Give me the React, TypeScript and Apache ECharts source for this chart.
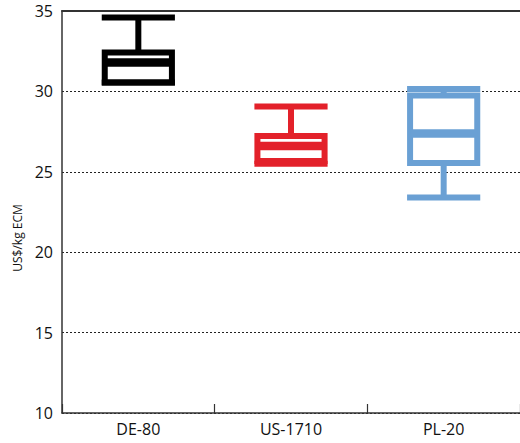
import React, { useEffect, useRef } from "react";
import * as echarts from "echarts";

const categories = ["DE-80", "US-1710", "PL-20"];
const colors = ["#000000", "#e3212a", "#6aa0d4"];
// [min, Q1, median, Q3, max]
const boxValues = [
  [30.55, 30.55, 31.8, 32.42, 34.6],
  [25.5, 25.67, 26.6, 27.23, 29.06],
  [23.4, 25.55, 27.38, 29.75, 30.15],
];
const yTicks = { min: 10, max: 35, interval: 5 };
const yAxisName = "US$/kg ECM";

export default function App() {
  const ref = useRef<HTMLDivElement>(null);
  useEffect(() => {
    if (!ref.current) return;
    document.body.style.margin = "0";
    const chart = echarts.init(ref.current, null, { renderer: "svg" });
    const data = boxValues.map((v, i) => [i, ...v]);
    chart.setOption({
      animation: false,
      grid: { left: 62, top: 11, bottom: 30, right: -4 },
      graphic: [
        {
          type: "text",
          x: 17,
          y: 238,
          rotation: Math.PI / 2,
          style: {
            text: yAxisName,
            fill: "#111",
            fontSize: 12,
            fontFamily: "Open Sans",
            textAlign: "center",
            textVerticalAlign: "middle",
          },
        },
      ],
      xAxis: [
        {
          type: "category",
          data: categories,
          boundaryGap: true,
          axisLine: { lineStyle: { color: "#333", width: 1.5 } },
          axisTick: { show: true, inside: true, length: 9, lineStyle: { color: "#333", width: 1.2 } },
          axisLabel: { color: "#111", fontSize: 16, fontFamily: "Open Sans", margin: 8 },
        },
        {
          type: "category",
          data: categories,
          position: "top",
          axisLine: { show: true, lineStyle: { color: "#333", width: 2 } },
          axisTick: { show: false },
          axisLabel: { show: false },
        },
      ],
      yAxis: {
        type: "value",
        min: yTicks.min,
        max: yTicks.max,
        interval: yTicks.interval,
        axisLine: { show: true, lineStyle: { color: "#333", width: 1.5 } },
        axisTick: { show: false },
        axisLabel: { color: "#111", fontSize: 16, fontFamily: "Open Sans", margin: 9 },
        splitLine: { show: true, lineStyle: { color: "#222", type: [2, 2], width: 1.2 } },
      },
      series: [
        {
          type: "custom",
          data,
          renderItem: (params: any, api: any) => {
            const idx = api.value(0);
            const mn = api.value(1), q1 = api.value(2), md = api.value(3), q3 = api.value(4), mx = api.value(5);
            const band = api.size([1, 0])[0];
            const half = band * 0.22;
            const cx = api.coord([idx, 0])[0];
            const yMin = api.coord([idx, mn])[1];
            const yQ1 = api.coord([idx, q1])[1];
            const yMd = api.coord([idx, md])[1];
            const yQ3 = api.coord([idx, q3])[1];
            const yMax = api.coord([idx, mx])[1];
            const color = colors[idx];
            const lw = 6;
            const line = (x1: number, y1: number, x2: number, y2: number, w: number) => ({
              type: "line",
              shape: { x1, y1, x2, y2 },
              style: { stroke: color, lineWidth: w, fill: null },
            });
            const hw = half + lw / 2;
            return {
              type: "group",
              children: [
                line(cx, yQ3, cx, yMax, lw),
                line(cx, yQ1, cx, yMin, lw),
                line(cx - hw, yMax, cx + hw, yMax, lw),
                line(cx - hw, yMin, cx + hw, yMin, lw),
                {
                  type: "rect",
                  shape: { x: cx - half, y: yQ3, width: half * 2, height: yQ1 - yQ3 },
                  style: { stroke: color, lineWidth: lw, fill: "none" },
                },
                line(cx - half, yMd, cx + half, yMd, 8.5),
              ],
            };
          },
        },
      ],
    });
    return () => chart.dispose();
  }, []);
  return <div ref={ref} style={{ width: 520, height: 443 }} />;
}
